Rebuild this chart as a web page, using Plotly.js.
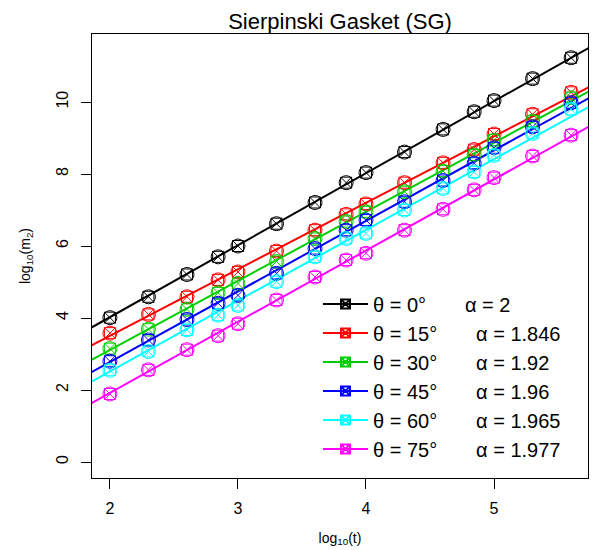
<!DOCTYPE html>
<html><head><meta charset="utf-8">
<script src="https://cdn.plot.ly/plotly-3.0.1.min.js"></script>
<style>html,body{margin:0;padding:0;background:#fff}#chart{width:596px;height:550px}</style>
</head><body><div id="chart"></div>
<script>
// log10(t) sample positions
const logT = [2, 2.301, 2.602, 2.845, 3, 3.301, 3.602, 3.845, 4, 4.301, 4.602, 4.845, 5, 5.301, 5.602];
// log10(m2) per angle
const theta0  = [4.01, 4.59, 5.21, 5.70, 6.00, 6.62, 7.21, 7.76, 8.04, 8.61, 9.24, 9.73, 10.04, 10.65, 11.23];
const theta15 = [3.58, 4.10, 4.59, 5.06, 5.28, 5.86, 6.44, 6.88, 7.17, 7.76, 8.31, 8.68, 9.11, 9.66, 10.27];
const theta30 = [3.15, 3.69, 4.24, 4.70, 4.96, 5.57, 6.21, 6.68, 6.95, 7.51, 8.08, 8.53, 8.94, 9.47, 10.12];
const theta45 = [2.80, 3.39, 3.96, 4.41, 4.63, 5.24, 5.93, 6.44, 6.72, 7.23, 7.82, 8.30, 8.73, 9.31, 9.98];
const theta60 = [2.55, 3.07, 3.67, 4.08, 4.35, 5.01, 5.70, 6.21, 6.35, 7.00, 7.60, 8.06, 8.52, 9.13, 9.80];
const theta75 = [1.89, 2.56, 3.12, 3.51, 3.84, 4.50, 5.14, 5.61, 5.80, 6.44, 7.02, 7.56, 7.90, 8.50, 9.08];
const thetas = ['0', '15', '30', '45', '60', '75'];
const alphas = [2, 1.846, 1.92, 1.96, 1.965, 1.977];
const alphaLabels = ['2', '1.846', '1.92', '1.96', '1.965', '1.977'];
const xTicks = [2, 3, 4, 5];
const yTicks = [0, 2, 4, 6, 8, 10];

const series = [theta0, theta15, theta30, theta45, theta60, theta75];
const colors = ['#000000', '#FF0000', '#00CD00', '#0000FF', '#00FFFF', '#FF00FF'];
const xRange = [1.86, 5.734];
const yRange = [-0.444, 11.89];
const NB = '\u00a0';

function mean(a) { return a.reduce((s, v) => s + v, 0) / a.length; }

const lineTraces = [], markerTraces = [];
series.forEach((ys, i) => {
  const slope = alphas[i];
  const icpt = mean(ys) - slope * mean(logT);
  const xl = [xRange[0] - 0.5, xRange[1] + 0.5];
  const gap = NB.repeat(7);
  lineTraces.push({
    x: xl, y: xl.map(v => icpt + slope * v),
    type: 'scatter', mode: 'lines+markers', cliponaxis: true,
    name: 'θ' + NB + '=' + NB + thetas[i] + '°' + gap + 'α' + NB + '=' + NB + alphaLabels[i],
    line: {color: colors[i], width: 2},
    marker: {symbol: 'square-x-open', size: 9, color: colors[i], line: {width: 2, color: colors[i]}},
    hoverinfo: 'skip'
  });
  markerTraces.push({
    x: logT, y: ys, type: 'scatter', mode: 'markers', showlegend: false,
    marker: {symbol: 'circle-open', size: 14, color: colors[i], line: {width: 1, color: colors[i]}},
    hoverinfo: 'skip'
  });
  markerTraces.push({
    x: logT, y: ys, type: 'scatter', mode: 'markers', showlegend: false,
    marker: {symbol: 'square-x-open', size: 11, color: colors[i], line: {width: 1, color: colors[i]}},
    hoverinfo: 'skip'
  });
});

const FONT = 'Liberation Sans, Arial, Helvetica, sans-serif';
const layout = {
  width: 596, height: 550,
  margin: {l: 92, r: 8, t: 34, b: 72},
  paper_bgcolor: '#fff', plot_bgcolor: '#fff',
  font: {family: FONT, color: '#000'},
  title: {text: 'Sierpinski Gasket (SG)', font: {size: 22, family: FONT, color: '#000'},
          x: 0.5705, xanchor: 'center', xref: 'container', y: 1 - 21 / 550, yanchor: 'middle', yref: 'container'},
  xaxis: {
    range: xRange, tickvals: xTicks, ticktext: xTicks.map(String),
    showgrid: false, zeroline: false, showline: true, mirror: true, linecolor: '#000', linewidth: 1,
    ticks: 'outside', ticklen: 10, tickwidth: 1, tickcolor: '#000', ticklabelstandoff: 6,
    tickfont: {size: 16, family: FONT, color: '#000'},
    title: {text: 'log<sub>10</sub>(t)', font: {size: 14, family: FONT, color: '#000'}, standoff: 16}
  },
  yaxis: {
    range: yRange, tickvals: yTicks, ticktext: yTicks.map(String), tickangle: -90,
    showgrid: false, zeroline: false, showline: true, mirror: true, linecolor: '#000', linewidth: 1,
    ticks: 'outside', ticklen: 10, tickwidth: 1, tickcolor: '#000', ticklabelstandoff: 7,
    tickfont: {size: 16, family: FONT, color: '#000'},
    title: {text: 'log<sub>10</sub>(m<sub>2</sub>)', font: {size: 14, family: FONT, color: '#000'}, standoff: 19}
  },
  showlegend: true,
  legend: {
    x: 0.4556, xanchor: 'left', y: 0.436, yanchor: 'top',
    bgcolor: 'rgba(0,0,0,0)', borderwidth: 0,
    font: {size: 20, family: FONT, color: '#000'},
    itemwidth: 45, traceorder: 'normal'
  },
  hovermode: false
};

Plotly.newPlot('chart', lineTraces.concat(markerTraces), layout, {displayModeBar: false, staticPlot: true});
</script>
</body></html>
